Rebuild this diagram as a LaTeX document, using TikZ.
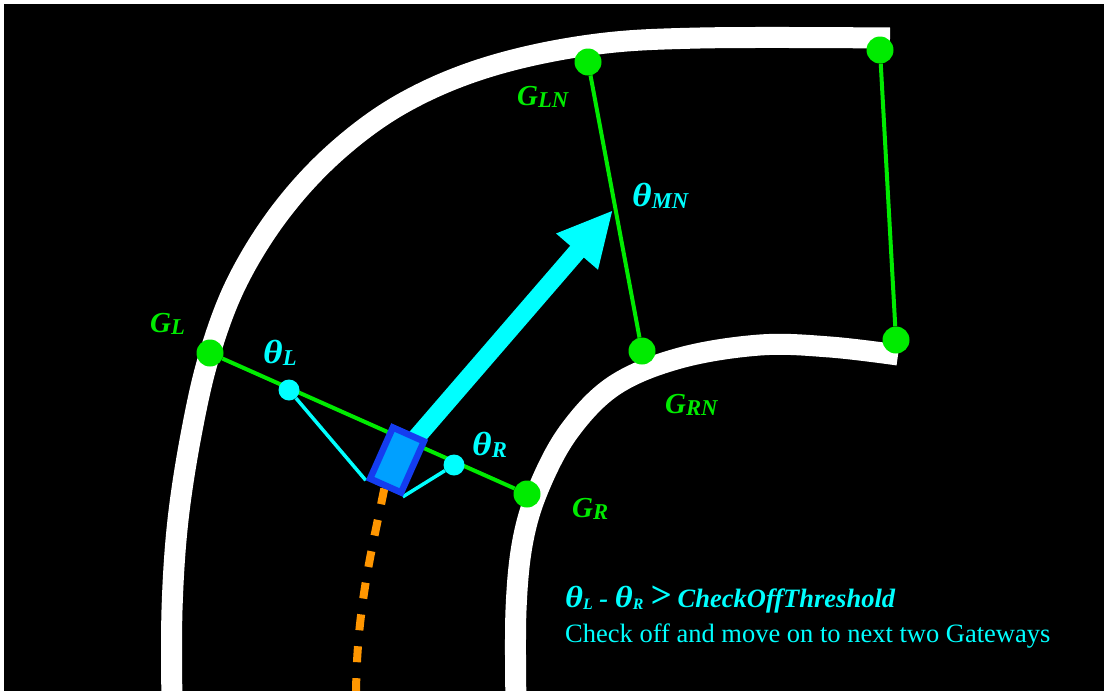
\documentclass[tikz,border=0pt]{standalone}
\usepackage{fontspec}
\setmainfont{Liberation Serif}
\usepackage{graphicx}
\usetikzlibrary{arrows.meta,backgrounds}
\definecolor{gr}{RGB}{0,235,0}
\definecolor{cy}{RGB}{0,255,255}
\definecolor{orng}{RGB}{255,150,0}
\definecolor{carblue}{RGB}{20,60,240}
\definecolor{carfill}{RGB}{0,160,255}
\newcommand\lbl[3][0.78]{#2\raisebox{-0.1em}{\scalebox{#1}{#3}}}
\newcommand\bigth{\scalebox{1.3}[1.15]{θ}}
\begin{document}
\begin{tikzpicture}[x=1pt,y=-1pt,
  gdot/.style={circle,fill=gr,minimum size=27pt,inner sep=0pt},
  cdot/.style={circle,fill=cy,minimum size=21pt,inner sep=0pt},
  gline/.style={draw=gr,line width=4pt},
  cline/.style={draw=cy,line width=3.5pt},
  road/.style={draw=white,line width=21pt},
  glabel/.style={text=gr,font=\fontsize{29}{29}\selectfont\bfseries\itshape,anchor=base west,inner sep=0pt},
  clabel/.style={glabel,text=cy},
  note/.style={text=cy,anchor=base west,inner sep=0pt,font=\fontsize{26.5}{26.5}\selectfont}]
\useasboundingbox (0,0) rectangle (1104,691);
% gateway points
\node[gdot] (GL) at (210,353) {};
\node[gdot] (GR) at (527,494) {};
\node[gdot] (GLN) at (588,62) {};
\node[gdot] (GRN) at (642,351) {};
\node[gdot] (GTR) at (880,50) {};
\node[gdot] (GBR) at (896,340) {};
% theta points
\node[cdot] (thL) at (289,390) {};
\node[cdot] (thR) at (454,465) {};
% vehicle
\node[draw=carblue,fill=carfill,line width=6.5pt,minimum width=34pt,minimum height=56pt,rotate=-24,inner sep=0pt] (car) at (397,460) {};
\coordinate (tip) at (613,210);
\coordinate (trail) at (356,700);
% labels
\node[glabel] (lGL) at (150,332) {\lbl{G}{L}};
\node[clabel] (lthL) at (263,363) {\lbl{\bigth}{L}};
\node[clabel] (lthR) at (472,455) {\lbl{\bigth}{R}};
\node[glabel] (lGR) at (572,517) {\lbl{G}{R}};
\node[glabel] (lGRN) at (665,413) {\lbl{G}{RN}};
\node[glabel] (lGLN) at (517,105) {\lbl{G}{LN}};
\node[clabel] (lthMN) at (632,206) {\lbl{\bigth}{MN}};
\node[note,font=\fontsize{26.5}{26.5}\selectfont\bfseries\itshape] (cond) at (565,607) {\lbl[0.6]{\bigth}{L} - \lbl[0.6]{\bigth}{R} \scalebox{1.4}{>} CheckOffThreshold};
\node[note] (msg) at (565,642) {Check off and move on to next two Gateways};
\begin{scope}[on background layer]
  \fill[white] (0,0) rectangle (1104,691);
  \fill[black] (4,4) rectangle (1104,691);
  \draw[road] plot[smooth,tension=0.6] coordinates {(172,705) (172,610) (178,520) (192,430) (210,353) (238,280) (282,210) (338,150) (405,102) (488,67) (590,45) (700,38) (890,38)};
  \draw[road] plot[smooth,tension=0.6] coordinates {(516,705) (516,610) (523,540) (540,485) (570,430) (615,385) (680,358) (760,345) (830,347) (898,355)};
  \draw[gline] (GL) -- (GR);
  \draw[gline] (GLN) -- (GRN);
  \draw[gline] (GTR) -- (GBR);
  \draw[cline] (thL) -- (car.south west);
  \draw[cline] (thR) -- (car.south east);
  \draw[orng,line width=8pt,dash pattern=on 16pt off 16pt] (car.south) .. controls (372,550) and (356,610) .. (trail);
  \draw[cy,line width=18pt,-{Triangle[length=55pt,width=51pt]}] (car.center) -- (tip);
\end{scope}
\end{tikzpicture}
\end{document}
